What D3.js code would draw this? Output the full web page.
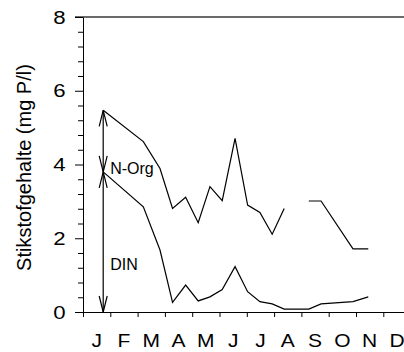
<!DOCTYPE html>
<html>
<head>
<meta charset="utf-8">
<script src="https://cdn.jsdelivr.net/npm/d3@7"></script>
<style>
  body { margin: 0; background: #fff; }
  text { font-family: "Liberation Sans", Arial, sans-serif; fill: #000; }
</style>
</head>
<body>
<svg id="chart" width="404" height="352"></svg>
<script>
const monthLabels = ['J', 'F', 'M', 'A', 'M', 'J', 'J', 'A', 'S', 'O', 'N', 'D'];
// sampling dates as month fraction (0 = 1 Jan)
const sampleMonth = [0.74, 2.21, 2.82, 3.28, 3.76, 4.22, 4.65, 5.10, 5.57, 6.03, 6.48, 6.93, 7.37, 7.82, 8.27, 8.72, 9.89, 10.45];
const din    = [3.80, 2.85, 1.68, 0.26, 0.73, 0.30, 0.41, 0.61, 1.23, 0.55, 0.28, 0.22, 0.08, 0.08, 0.08, 0.22, 0.28, 0.41];
const nTotal = [5.47, 4.62, 3.89, 2.81, 3.11, 2.42, 3.40, 3.02, 4.71, 2.90, 2.70, 2.11, 2.81, null, 3.01, 3.01, 1.71, 1.71];
const yTicks = [0, 2, 4, 6, 8];

var width = 404,
    height = 352,
    padLeft = 83,
    padTop = 17,
    padBottom = 312;

var svg = d3.select('#chart');

var xScale = d3.scaleLinear()
    .domain([0, 12])
    .range([padLeft, padLeft + 12 * 27.3]);

var yScale = d3.scaleLinear()
    .domain([0, 8])
    .range([padBottom, padTop]);

// top frame line
svg.append('line')
    .attr('x1', padLeft - 8).attr('x2', width)
    .attr('y1', yScale(8)).attr('y2', yScale(8))
    .attr('stroke', '#6a6a6a')
    .attr('stroke-width', 2);

// y axis: major + minor ticks
var yAxis = d3.axisLeft(yScale)
    .tickValues(d3.range(0, 8.01, 0.4))
    .tickSizeOuter(0)
    .tickFormat('');

var yAxisGroup = svg.append('g')
    .attr('transform', `translate(${padLeft}, 0)`)
    .call(yAxis);

yAxisGroup.selectAll('.tick line')
    .attr('x2', d => Math.abs(d / 2 - Math.round(d / 2)) < 0.01 ? -8 : -5)
    .attr('stroke', '#000');
yAxisGroup.select('.domain').attr('stroke', '#000');

// tick labels in the source are a little wider than tall
svg.selectAll('.ylabel')
    .data(yTicks)
    .enter()
    .append('text')
    .attr('class', 'ylabel')
    .attr('transform', d => `translate(${padLeft - 17.5}, ${yScale(d)}) scale(1.2, 1)`)
    .attr('dy', '0.36em')
    .attr('text-anchor', 'end')
    .attr('font-size', 18.5)
    .text(d => d);

// x axis
var xAxis = d3.axisBottom(xScale)
    .tickValues(d3.range(0, 12))
    .tickSize(5)
    .tickSizeOuter(0)
    .tickFormat('');

var xAxisGroup = svg.append('g')
    .attr('transform', `translate(0, ${padBottom})`)
    .call(xAxis);
xAxisGroup.select('.domain').attr('d', `M${padLeft - 8},0.5H${width}`).attr('stroke', '#000');
xAxisGroup.selectAll('.tick line').attr('stroke', '#000');

svg.selectAll('.month')
    .data(monthLabels)
    .enter()
    .append('text')
    .attr('class', 'month')
    .attr('transform', (d, i) => `translate(${xScale(i + 0.5)}, 347) scale(1.2, 1)`)
    .attr('text-anchor', 'middle')
    .attr('font-size', 17.5)
    .text(d => d);

// axis title
svg.append('text')
    .attr('transform', `translate(31, ${(padTop + padBottom) / 2 + 3}) rotate(-90)`)
    .attr('text-anchor', 'middle')
    .attr('font-size', 20)
    .text('Stikstofgehalte (mg P/l)');

// series lines
var rows = sampleMonth.map((m, i) => ({ m: m, din: din[i], nt: nTotal[i] }));

var dinLine = d3.line()
    .x(d => xScale(d.m))
    .y(d => yScale(d.din));

var ntLine = d3.line()
    .defined(d => d.nt != null)
    .x(d => xScale(d.m))
    .y(d => yScale(d.nt));

svg.append('path')
    .attr('d', dinLine(rows))
    .attr('fill', 'none')
    .attr('stroke', '#000')
    .attr('stroke-width', 1.2);

svg.append('path')
    .attr('d', ntLine(rows))
    .attr('fill', 'none')
    .attr('stroke', '#000')
    .attr('stroke-width', 1.2);

// double arrows for DIN and N-Org
var ax = xScale(sampleMonth[0]);
var spans = [[0, din[0]], [din[0], nTotal[0]]];

function head(v, dir) {
    var y = yScale(v);
    return `M${ax - 4},${y + dir * 16}L${ax},${y}L${ax + 4},${y + dir * 16}`;
}

spans.forEach(s => {
    svg.append('line')
        .attr('x1', ax).attr('x2', ax)
        .attr('y1', yScale(s[0])).attr('y2', yScale(s[1]))
        .attr('stroke', '#000')
        .attr('stroke-width', 1.2);
    svg.append('path')
        .attr('d', head(s[1], 1) + head(s[0], -1))
        .attr('fill', 'none')
        .attr('stroke', '#000')
        .attr('stroke-width', 1.2);
});

svg.append('text')
    .attr('x', ax + 7)
    .attr('y', 174)
    .attr('font-size', 16)
    .text('N-Org');

svg.append('text')
    .attr('x', ax + 7)
    .attr('y', 270)
    .attr('font-size', 16)
    .text('DIN');
</script>
</body>
</html>
